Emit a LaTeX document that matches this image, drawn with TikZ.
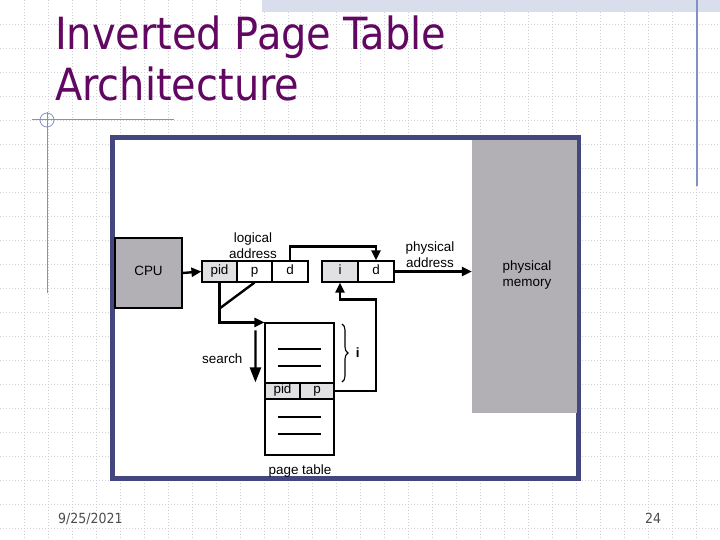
\documentclass[tikz,border=0pt]{standalone}
\usepackage{fontspec}
\setmainfont{Liberation Sans}
\newfontfamily\slidefont{DejaVu Sans Condensed}
\usetikzlibrary{arrows.meta,decorations.pathreplacing,calc}
\definecolor{framecol}{RGB}{68,70,126}
\definecolor{boxgray}{RGB}{178,176,181}
\definecolor{cellgray}{RGB}{225,224,226}
\definecolor{titlecol}{RGB}{98,8,98}
\definecolor{decocol}{RGB}{128,146,196}
\definecolor{gridcol}{RGB}{205,208,215}
\begin{document}
\begin{tikzpicture}[x=1bp, y=-1bp, >={Triangle[length=10bp,width=9bp]},
    font=\fontsize{13.5}{15}\selectfont,
    cell/.style={draw, line width=1.1bp, minimum height=21bp, inner sep=0pt, text height=0.72em, text depth=0.2em},
    conn/.style={line width=2.4bp},
    searcharrow/.style={line width=2.4bp, -{Triangle[length=15bp,width=11bp]}},
    rowline/.style={line width=1.1bp}]
    \useasboundingbox (0,0) rectangle (720,540);
    % Slide background
    \fill[white] (0,0) rectangle (720,540);
    \foreach \gx in {24,48,...,696}
        \draw[gridcol, dash pattern=on 1bp off 2bp, line width=0.6bp] (\gx,0) -- (\gx,540);
    \foreach \gy in {24,48,...,528}
        \draw[gridcol, dash pattern=on 1bp off 2bp, line width=0.6bp] (0,\gy) -- (720,\gy);
    \fill[decocol!30] (262,0) rectangle (720,12);
    \draw[decocol, line width=1.2bp] (697,0) -- (697,186);
    \draw[decocol, line width=1bp] (32,120) -- (174,120);
    \draw[decocol, line width=1bp] (47,112) -- (47,293);
    \draw[decocol, line width=0.8bp] (47,120) circle (7);
    % Title and footer
    \node[anchor=base west, inner sep=0pt, text=titlecol, font=\slidefont\fontsize{44.5}{51}\selectfont] (title) at (55,50) {Inverted Page Table};
    \node[anchor=base west, inner sep=0pt, text=titlecol, font=\slidefont\fontsize{44.5}{51}\selectfont] (subtitle) at (55,101) {Architecture};
    \node[anchor=base west, inner sep=0pt, text=black!70, font=\slidefont\fontsize{14}{16}\selectfont] (date) at (58,523) {9/25/2021};
    \node[anchor=base west, inner sep=0pt, text=black!70, font=\slidefont\fontsize{14}{16}\selectfont] (pageno) at (645,523) {24};
    % Figure frame
    \draw[framecol, fill=white, line width=5bp] (112.5,137.5) rectangle (578.5,478.5);
    \node[fill=boxgray, minimum width=105bp, minimum height=273bp, inner sep=0pt] (mem) at (524.5,276.5) {};
    \node[align=center, font=\fontsize{13.5}{17}\selectfont] (memlabel) at (527,275) {physical\\memory};
    \node[cell, fill=boxgray, minimum width=67bp, minimum height=70bp] (cpu) at (148.5,273) {CPU};
    % Logical address
    \node[cell, fill=cellgray, minimum width=35bp] (pid) at (219.5,271.5) {pid};
    \node[cell, minimum width=35bp] (lp) at (254.5,271.5) {p};
    \node[cell, minimum width=36bp] (ld) at (290,271.5) {d};
    \node[align=center, font=\fontsize{13.5}{16}\selectfont] (loglabel) at (253,246) {logical\\address};
    % Physical address
    \node[cell, fill=cellgray, minimum width=36bp] (pi) at (340,271.5) {i};
    \node[cell, minimum width=36bp] (pd) at (376,271.5) {d};
    \node[align=center, font=\fontsize{13.5}{16}\selectfont] (physlabel) at (430,255) {physical\\address};
    % Page table
    \node[draw, line width=1.1bp, minimum width=69bp, minimum height=132bp, inner sep=0pt] (tab) at (299.5,389) {};
    \node[cell, fill=cellgray, minimum width=35bp, minimum height=16bp] (tpid) at (282.5,391) {pid};
    \node[cell, fill=cellgray, minimum width=34bp, minimum height=16bp] (tp) at (317,391) {p};
    \foreach \ly in {349,366,417,434}
        \draw[rowline] (278,\ly) -- (321,\ly);
    \node (tablabel) at (300,471) {page table};
    \node[anchor=east] (searchlabel) at (246,359) {search};
    \draw[line width=1.1bp, decorate, decoration={brace, amplitude=6bp}] (342,324) -- (342,382) node[midway, right=10bp, font=\bfseries\fontsize{13.5}{15}\selectfont] (ilabel) {i};
    % Connectors
    \draw[conn,->] (cpu.east) -- (pid.west);
    \draw[conn,->] (ld.north) -- ++(0,-14) -| (pd.north);
    \draw[conn,->] (pd.east) -- (mem.west |- pd.east);
    \draw[conn,->] (pid.south) |- (tab.north west);
    \coordinate (join) at ($(pid.south)+(0,-26bp)$);
    \draw[conn] (lp.south) -- (join);
    \draw[searcharrow] ([xshift=-9bp,yshift=-8bp]tab.north west) -- ([xshift=-9bp]tpid.north west);
    \draw[conn,->] (tp.east) -| ([yshift=-17bp]pd.south) -| (pi.south);
\end{tikzpicture}
\end{document}
